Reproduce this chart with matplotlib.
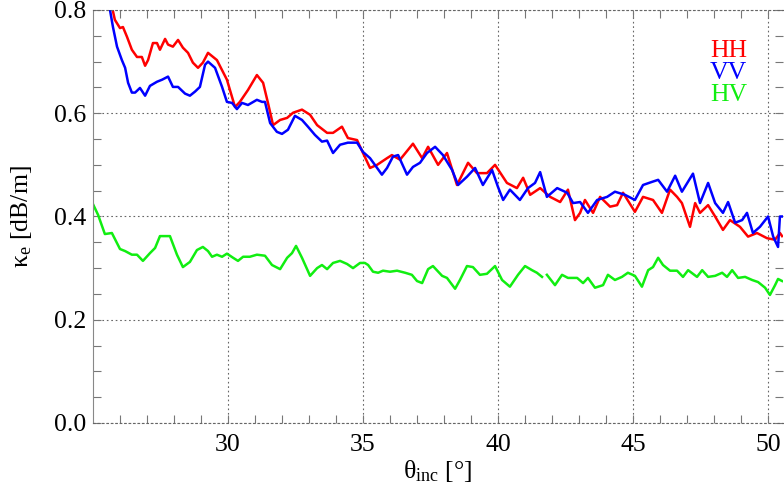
import numpy as np
import matplotlib
matplotlib.use('Agg')
import matplotlib.pyplot as plt
from matplotlib.ticker import MultipleLocator, FixedLocator

plt.rcParams['font.family'] = ['Liberation Serif', 'DejaVu Serif']
plt.rcParams['mathtext.fontset'] = 'custom'
plt.rcParams['mathtext.rm'] = 'Liberation Serif'
plt.rcParams['mathtext.it'] = 'Liberation Serif'

# extinction vs incidence angle, one trace per polarisation
theta_hh = [25.60, 25.73, 25.81, 26.00, 26.11, 26.26, 26.44, 26.63, 26.81, 26.93,
            27.04, 27.22, 27.37, 27.48, 27.67, 27.78, 27.96, 28.15, 28.33, 28.52,
            28.70, 28.89, 29.07, 29.26, 29.59, 29.96, 30.26, 30.44, 30.74, 31.07,
            31.30, 31.48, 31.67, 31.93, 32.19, 32.41, 32.74, 33.04, 33.30, 33.67,
            33.89, 34.22, 34.44, 34.78, 35.00, 35.26, 35.52, 35.89, 36.07, 36.37,
            36.85, 37.19, 37.41, 37.78, 38.11, 38.48, 38.89, 39.22, 39.59, 39.89,
            40.33, 40.70, 40.93, 41.19, 41.56, 41.93, 42.30, 42.59, 42.85, 43.04,
            43.22, 43.52, 43.78, 44.15, 44.41, 44.63, 45.07, 45.37, 45.74, 46.07,
            46.37, 46.63, 46.81, 47.11, 47.30, 47.48, 47.78, 48.04, 48.33, 48.59,
            48.96, 49.26, 49.59, 49.96, 50.26, 50.44, 50.52]
kappa_hh = [0.830, 0.800, 0.781, 0.765, 0.767, 0.748, 0.723, 0.709, 0.709, 0.692,
            0.703, 0.736, 0.736, 0.723, 0.744, 0.733, 0.729, 0.742, 0.727, 0.717,
            0.698, 0.688, 0.698, 0.717, 0.703, 0.665, 0.612, 0.622, 0.645, 0.674,
            0.659, 0.620, 0.577, 0.587, 0.591, 0.601, 0.607, 0.597, 0.577, 0.562,
            0.562, 0.574, 0.552, 0.548, 0.523, 0.494, 0.500, 0.513, 0.519, 0.510,
            0.541, 0.513, 0.535, 0.500, 0.523, 0.461, 0.504, 0.484, 0.484, 0.500,
            0.465, 0.455, 0.475, 0.442, 0.455, 0.438, 0.428, 0.452, 0.393, 0.407,
            0.432, 0.407, 0.438, 0.419, 0.422, 0.446, 0.409, 0.438, 0.432, 0.407,
            0.452, 0.438, 0.426, 0.380, 0.426, 0.407, 0.422, 0.400, 0.374, 0.393,
            0.380, 0.361, 0.368, 0.358, 0.355, 0.368, 0.362]

theta_vv = [25.55, 25.63, 25.74, 25.89, 26.07, 26.19, 26.30, 26.44, 26.56, 26.74,
            26.93, 27.11, 27.37, 27.56, 27.78, 27.96, 28.15, 28.41, 28.59, 28.78,
            28.96, 29.15, 29.26, 29.52, 29.78, 29.96, 30.15, 30.33, 30.52, 30.74,
            31.07, 31.26, 31.37, 31.56, 31.81, 32.00, 32.22, 32.48, 32.74, 32.96,
            33.22, 33.48, 33.67, 33.89, 34.15, 34.44, 34.78, 35.00, 35.26, 35.44,
            35.70, 35.89, 36.11, 36.30, 36.63, 36.85, 37.11, 37.37, 37.67, 37.96,
            38.30, 38.52, 38.85, 39.15, 39.44, 39.78, 40.00, 40.19, 40.44, 40.81,
            41.11, 41.37, 41.56, 41.81, 42.19, 42.56, 42.78, 43.04, 43.33, 43.67,
            44.04, 44.33, 44.70, 45.07, 45.37, 45.70, 45.93, 46.26, 46.56, 46.81,
            47.22, 47.48, 47.78, 48.04, 48.33, 48.52, 48.78, 49.04, 49.22, 49.44,
            49.70, 50.00, 50.19, 50.37, 50.44, 50.52]
kappa_vv = [0.830, 0.800, 0.767, 0.729, 0.703, 0.688, 0.659, 0.640, 0.640, 0.649,
            0.634, 0.653, 0.661, 0.665, 0.671, 0.651, 0.651, 0.638, 0.634, 0.642,
            0.651, 0.694, 0.700, 0.688, 0.651, 0.622, 0.620, 0.608, 0.620, 0.616,
            0.626, 0.622, 0.622, 0.581, 0.564, 0.560, 0.568, 0.595, 0.587, 0.574,
            0.558, 0.545, 0.547, 0.523, 0.539, 0.543, 0.543, 0.525, 0.513, 0.500,
            0.481, 0.494, 0.516, 0.519, 0.481, 0.496, 0.504, 0.523, 0.535, 0.519,
            0.490, 0.461, 0.477, 0.494, 0.461, 0.490, 0.457, 0.432, 0.452, 0.432,
            0.455, 0.465, 0.486, 0.438, 0.455, 0.446, 0.426, 0.428, 0.407, 0.432,
            0.438, 0.448, 0.442, 0.432, 0.461, 0.467, 0.471, 0.448, 0.479, 0.448,
            0.483, 0.426, 0.465, 0.426, 0.407, 0.428, 0.388, 0.393, 0.407, 0.368,
            0.380, 0.400, 0.361, 0.341, 0.400, 0.400]

# nan marks the short dropout in the cross-pol trace
theta_hv = [25.00, 25.19, 25.44, 25.70, 26.00, 26.19, 26.44, 26.63, 26.85, 27.11,
            27.30, 27.48, 27.85, 28.11, 28.33, 28.59, 28.85, 29.07, 29.26, 29.41,
            29.59, 29.78, 29.96, 30.19, 30.37, 30.56, 30.81, 31.07, 31.37, 31.63,
            31.93, 32.19, 32.37, 32.52, 32.74, 33.04, 33.30, 33.48, 33.67, 33.89,
            34.15, 34.41, 34.63, 34.89, 35.07, 35.19, 35.37, 35.56, 35.74, 36.00,
            36.26, 36.56, 36.81, 37.00, 37.19, 37.41, 37.59, 37.93, 38.11, 38.41,
            38.59, 38.85, 39.07, 39.33, 39.59, 39.89, 40.15, 40.44, 40.74, 41.00,
            41.26, 41.44, 41.63, 41.72, 41.81, 42.11, 42.37, 42.59, 42.93, 43.15,
            43.33, 43.59, 43.89, 44.07, 44.33, 44.59, 44.81, 45.07, 45.33, 45.56,
            45.74, 45.93, 46.11, 46.37, 46.63, 46.85, 47.04, 47.37, 47.56, 47.78,
            48.04, 48.30, 48.48, 48.67, 48.89, 49.15, 49.41, 49.63, 49.89, 50.07,
            50.26, 50.37, 50.52]
kappa_hv = [0.424, 0.403, 0.366, 0.368, 0.337, 0.333, 0.326, 0.326, 0.314, 0.329,
            0.339, 0.362, 0.362, 0.326, 0.302, 0.312, 0.335, 0.341, 0.333, 0.322,
            0.326, 0.322, 0.328, 0.320, 0.314, 0.322, 0.322, 0.326, 0.324, 0.306,
            0.298, 0.320, 0.329, 0.343, 0.320, 0.285, 0.300, 0.306, 0.298, 0.310,
            0.314, 0.308, 0.300, 0.310, 0.310, 0.306, 0.293, 0.291, 0.295, 0.293,
            0.295, 0.291, 0.287, 0.275, 0.271, 0.298, 0.304, 0.285, 0.281, 0.260,
            0.277, 0.304, 0.302, 0.287, 0.289, 0.304, 0.277, 0.264, 0.287, 0.304,
            0.296, 0.291, 0.283, np.nan, 0.287, 0.267, 0.287, 0.281, 0.281, 0.271,
            0.281, 0.262, 0.267, 0.287, 0.277, 0.283, 0.291, 0.285, 0.264, 0.296,
            0.302, 0.320, 0.306, 0.295, 0.295, 0.283, 0.296, 0.283, 0.296, 0.283,
            0.285, 0.291, 0.283, 0.296, 0.281, 0.283, 0.277, 0.273, 0.262, 0.248,
            0.267, 0.279, 0.275]

pols   = ['HH', 'VV', 'HV']
colors = ['#ff0000', '#0000ff', '#11ee11']
x_major = [30, 35, 40, 45, 50]

fig = plt.figure(figsize = (7.84, 4.95), dpi = 100)
ax  = fig.add_axes([0.1186, 0.1455, 0.8800, 0.8343])

ax.plot(theta_hh, kappa_hh, color = colors[0], lw = 1.8)
ax.plot(theta_vv, kappa_vv, color = colors[1], lw = 1.8)
ax.plot(theta_hv, kappa_hv, color = colors[2], lw = 1.8)

ax.set_xlim(25.0, 50.55)
ax.set_ylim(0.0, 0.8)
ax.xaxis.set_major_locator(FixedLocator(x_major))
ax.xaxis.set_minor_locator(FixedLocator(np.arange(26, 51)))
ax.yaxis.set_major_locator(MultipleLocator(0.2))
ax.yaxis.set_minor_locator(MultipleLocator(0.05))
ax.yaxis.set_major_formatter(lambda v, p: '%.1f' % v)

ax.grid(True, which = 'major', color = '#666666', lw = 0.8, linestyle = (0, (1.5, 2.5)))
ax.tick_params(which = 'both', direction = 'in', top = True, right = True,
               color = '#777777', width = 0.8, labelsize = 18.5, length = 6)
ax.tick_params(axis = 'x', pad = 8)
ax.tick_params(axis = 'y', pad = 5)

ax.spines['left'].set_color('#888888')
for side in ['top', 'bottom']:
    ax.spines[side].set_color('#666666')
    ax.spines[side].set_linestyle((0, (1.5, 2.5)))
    ax.spines[side].set_linewidth(0.8)
ax.spines['right'].set_visible(False)

ax.set_xlabel(r'$\mathrm{θ_{inc}}$ [°]', fontsize = 18.5)
ax.set_ylabel(r'$\mathrm{κ_e}$ [dB/m]', fontsize = 18.5)
ax.xaxis.set_label_coords(0.5, -0.085)
ax.yaxis.set_label_coords(-0.085, 0.5)

for i, (p, c) in enumerate(zip(pols, colors)):
    ax.text(0.948, 0.886 - 0.053 * i, p, color = c, fontsize = 18.5,
            ha = 'right', va = 'baseline', transform = ax.transAxes)

fig.savefig('out.png', dpi = 100)
